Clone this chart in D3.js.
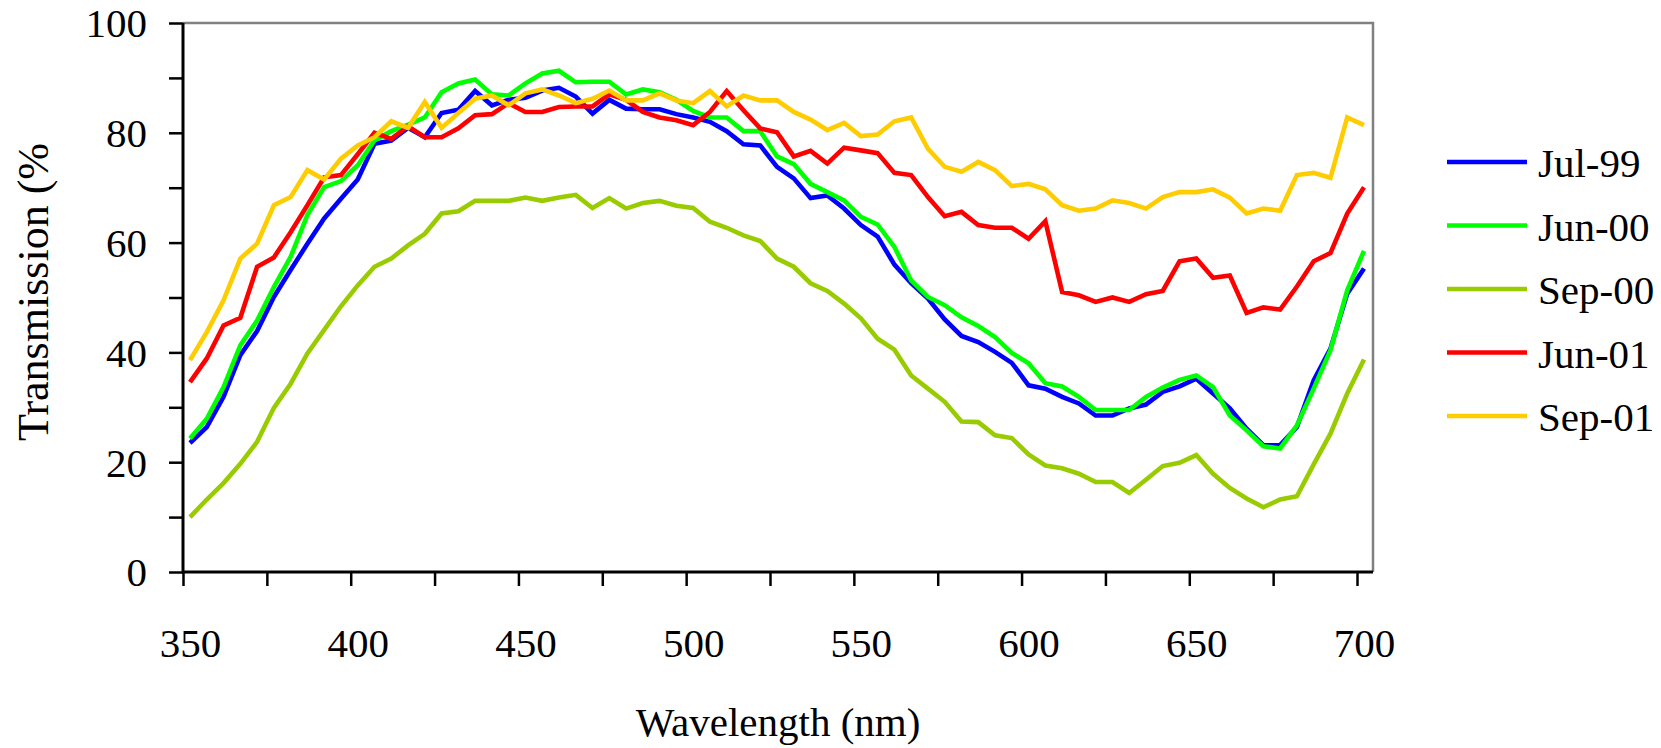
<!DOCTYPE html>
<html>
<head>
    <title>Transmission</title>
    <style>
        body, html {
            margin: 0;
            background: #fff;
        }
        .axis line {
            stroke: #000;
            stroke-width: 2.5;
        }
        .series {
            fill: none;
            stroke-width: 4.6;
        }
    </style>
    <script src="https://d3js.org/d3.v7.min.js"></script>
</head>
<body>
    <svg width="1661" height="748"></svg>
    <script>
        const wavelengths = [350, 355, 360, 365, 370, 375, 380, 385, 390, 395,
            400, 405, 410, 415, 420, 425, 430, 435, 440, 445,
            450, 455, 460, 465, 470, 475, 480, 485, 490, 495,
            500, 505, 510, 515, 520, 525, 530, 535, 540, 545,
            550, 555, 560, 565, 570, 575, 580, 585, 590, 595,
            600, 605, 610, 615, 620, 625, 630, 635, 640, 645,
            650, 655, 660, 665, 670, 675, 680, 685, 690, 695, 700];

        const jul99 = [23.5, 26.4, 31.9, 39.5, 43.9, 50.1, 55.0, 59.8, 64.4, 68.0,
            71.5, 78.0, 78.6, 80.9, 79.2, 83.6, 84.2, 87.6, 85.0, 86.0,
            86.4, 87.7, 88.2, 86.6, 83.5, 86.0, 84.4, 84.3, 84.3, 83.4,
            82.8, 82.0, 80.3, 77.9, 77.7, 73.8, 71.7, 68.1, 68.6, 66.2,
            63.2, 61.1, 56.0, 52.6, 49.8, 46.0, 43.0, 41.9, 40.1, 38.1,
            34.0, 33.4, 31.9, 30.7, 28.5, 28.5, 29.8, 30.5, 32.8, 33.8,
            35.2, 32.5, 29.8, 26.1, 23.1, 23.1, 26.4, 34.9, 40.7, 50.7, 55.3];

        const jun00 = [24.3, 27.9, 33.7, 41.3, 45.8, 51.9, 57.4, 65.0, 70.1, 71.2,
            74.1, 78.6, 80.3, 81.5, 82.8, 87.4, 89.0, 89.7, 87.0, 86.8,
            89.0, 90.8, 91.3, 89.2, 89.3, 89.3, 87.0, 87.9, 87.4, 86.0,
            84.0, 82.8, 82.8, 80.3, 80.3, 75.7, 74.3, 70.7, 69.2, 67.7,
            64.7, 63.3, 59.2, 53.1, 50.1, 48.6, 46.4, 44.8, 42.8, 39.9,
            38.0, 34.4, 33.8, 31.9, 29.5, 29.5, 29.5, 31.9, 33.6, 35.0,
            35.8, 33.7, 28.5, 25.8, 22.9, 22.5, 26.7, 33.4, 40.4, 51.3, 58.5];

        const sep00 = [10.0, 13.2, 16.2, 19.7, 23.7, 29.9, 34.3, 39.8, 44.1, 48.4,
            52.2, 55.6, 57.1, 59.5, 61.6, 65.3, 65.7, 67.6, 67.6, 67.6,
            68.2, 67.6, 68.2, 68.7, 66.3, 68.1, 66.2, 67.2, 67.6, 66.7,
            66.3, 63.8, 62.7, 61.3, 60.3, 57.1, 55.6, 52.6, 51.2, 48.9,
            46.2, 42.5, 40.5, 35.8, 33.4, 31.0, 27.4, 27.3, 24.9, 24.4,
            21.4, 19.4, 18.9, 17.9, 16.4, 16.4, 14.4, 16.8, 19.3, 19.9,
            21.3, 17.9, 15.3, 13.4, 11.8, 13.2, 13.8, 19.6, 25.2, 32.5, 38.7];

        const jun01 = [34.6, 38.9, 44.9, 46.3, 55.6, 57.3, 61.9, 66.8, 71.9, 72.3,
            76.1, 80.0, 78.9, 81.2, 79.2, 79.2, 80.8, 83.2, 83.4, 85.4,
            83.8, 83.8, 84.7, 84.8, 84.8, 87.0, 86.0, 83.8, 82.8, 82.3,
            81.4, 83.8, 87.6, 84.1, 80.8, 80.1, 75.7, 76.7, 74.4, 77.3,
            76.8, 76.3, 72.7, 72.3, 68.3, 64.8, 65.6, 63.2, 62.7, 62.7,
            60.7, 63.9, 51.0, 50.4, 49.2, 50.0, 49.2, 50.6, 51.2, 56.6,
            57.1, 53.6, 54.0, 47.2, 48.2, 47.8, 52.0, 56.6, 58.1, 65.3, 70.1];

        const sep01 = [38.6, 43.7, 49.5, 57.1, 59.8, 66.8, 68.3, 73.2, 71.5, 75.3,
            77.7, 79.2, 82.1, 80.9, 85.6, 80.9, 83.6, 86.2, 86.8, 85.0,
            87.2, 87.9, 86.8, 85.4, 86.2, 87.7, 85.9, 85.9, 87.2, 85.9,
            85.4, 87.6, 84.8, 86.8, 85.9, 85.9, 83.8, 82.4, 80.5, 81.8,
            79.4, 79.7, 82.1, 82.8, 77.1, 73.8, 72.9, 74.7, 73.2, 70.3,
            70.7, 69.7, 66.8, 65.8, 66.2, 67.7, 67.2, 66.2, 68.3, 69.2,
            69.2, 69.7, 68.2, 65.3, 66.2, 65.8, 72.3, 72.7, 71.8, 82.8, 81.4];

        const seriesNames = ['Jul-99', 'Jun-00', 'Sep-00', 'Jun-01', 'Sep-01'];
        const seriesColors = ['#0000ff', '#00ff00', '#99cc00', '#ff0000', '#ffcc00'];
        const seriesValues = [jul99, jun00, sep00, jun01, sep01];

        const xTicks = [350, 375, 400, 425, 450, 475, 500, 525, 550, 575, 600, 625, 650, 675, 700];
        const yTicks = [0, 10, 20, 30, 40, 50, 60, 70, 80, 90, 100];

        const font = '"Liberation Serif"';
        const fontSize = '41px';

        const svg = d3.select('svg');
        // plot frame
        const plotL = 183, plotR = 1373, plotT = 23, plotB = 572;

        const x = d3.scaleLinear().domain([350, 700]).range([190, 1364]);
        const y = d3.scaleLinear().domain([0, 100]).range([plotB, plotT]);

        // gray top / right border
        svg.append('path')
            .attr('d', `M${plotL},${plotT}H${plotR}V${plotB}`)
            .attr('fill', 'none')
            .attr('stroke', '#808080')
            .attr('stroke-width', 2.5);

        // y axis
        const gy = svg.append('g')
            .attr('class', 'axis')
            .attr('transform', `translate(${plotL},0)`)
            .call(d3.axisLeft(y)
                .tickValues(yTicks)
                .tickSize(14)
                .tickSizeOuter(0)
                .tickPadding(22)
                .tickFormat(d => d % 20 === 0 ? d : ''));
        gy.select('.domain').remove();
        gy.selectAll('text')
            .attr('dy', '0.34em')
            .style('font-family', font)
            .style('font-size', fontSize)
            .attr('fill', '#000');

        // x axis - tick marks sit a little left of the category positions
        const gx = svg.append('g')
            .attr('class', 'axis')
            .attr('transform', `translate(0,${plotB})`)
            .call(d3.axisBottom(x)
                .tickValues(xTicks)
                .tickSize(14)
                .tickSizeOuter(0)
                .tickFormat(d => d % 50 === 0 ? d : ''));
        gx.select('.domain').remove();
        gx.selectAll('.tick line').attr('transform', 'translate(-7,0)');
        gx.selectAll('.tick text')
            .attr('y', 85)
            .attr('dy', null)
            .style('font-family', font)
            .style('font-size', fontSize)
            .attr('fill', '#000');

        // black axis lines
        svg.append('path')
            .attr('d', `M${plotL},${plotT}V${plotB}H${plotR}`)
            .attr('fill', 'none')
            .attr('stroke', '#000')
            .attr('stroke-width', 3);

        // lines
        const line = d3.line()
            .x((d, i) => x(wavelengths[i]))
            .y(d => y(d));

        seriesValues.forEach((vals, k) => {
            svg.append('path')
                .datum(vals)
                .attr('class', 'series')
                .attr('stroke', seriesColors[k])
                .attr('d', line);
        });

        // axis titles
        svg.append('text')
            .attr('x', (plotL + plotR) / 2)
            .attr('y', 736)
            .attr('text-anchor', 'middle')
            .style('font-family', font)
            .style('font-size', fontSize)
            .text('Wavelength (nm)');

        svg.append('text')
            .attr('transform', 'translate(48,292) rotate(-90)')
            .attr('text-anchor', 'middle')
            .style('font-family', font)
            .style('font-size', '44px')
            .text('Transmission (%');

        // legend
        const legend = svg.append('g');
        seriesNames.forEach((name, k) => {
            const ly = 162 + k * 63.5;
            legend.append('line')
                .attr('x1', 1447).attr('x2', 1527)
                .attr('y1', ly).attr('y2', ly)
                .attr('stroke', seriesColors[k])
                .attr('stroke-width', 4.6);
            legend.append('text')
                .attr('x', 1538)
                .attr('y', ly + 15)
                .style('font-family', font)
                .style('font-size', fontSize)
                .text(name);
        });
    </script>
</body>
</html>
